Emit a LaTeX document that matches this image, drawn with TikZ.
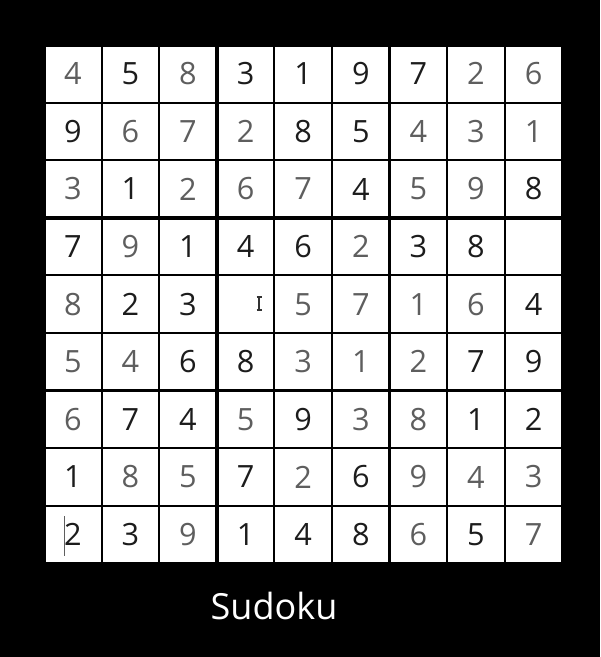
\documentclass[tikz,border=0pt]{standalone}
\usepackage{fontspec}
\setmainfont{Open Sans}
\usepackage{xcolor}
\usetikzlibrary{positioning}

\definecolor{cf}{HTML}{1C1C1C}
\definecolor{cl}{HTML}{5E5E5E}

\begin{document}
\begin{tikzpicture}[x=0.75pt, y=-0.75pt,
  celda/.style={draw=black, line width=1.6pt, minimum size=43.2pt,
    inner sep=0pt, outer sep=0pt, font=\fontsize{23}{26}\selectfont},
  bloque/.style={draw=black, line width=2.6pt}]
% Fondo
\fill[black] (0,0) rectangle (600,657);
\useasboundingbox (0,0) rectangle (600,657);
\fill[white] (44,45) rectangle (562.4,563.4);
% Celdas
\foreach \fila [count=\r] in {
  {4/l,5/f,8/l,3/f,1/f,9/f,7/f,2/l,6/l},
  {9/f,6/l,7/l,2/l,8/f,5/f,4/l,3/l,1/l},
  {3/l,1/f,2/l,6/l,7/l,4/f,5/l,9/l,8/f},
  {7/f,9/l,1/f,4/f,6/f,2/l,3/f,8/f,{}/l},
  {8/l,2/f,3/f,{}/l,5/l,7/l,1/l,6/l,4/f},
  {5/l,4/l,6/f,8/f,3/l,1/l,2/l,7/f,9/f},
  {6/l,7/f,4/f,5/l,9/f,3/l,8/l,1/f,2/f},
  {1/f,8/l,5/l,7/f,2/l,6/f,9/l,4/l,3/l},
  {2/f,3/f,9/l,1/f,4/f,8/f,6/l,5/f,7/l}}
  \foreach \v/\k [count=\c] in \fila
    \node[celda, text=c\k] (c-\r-\c) at ({44+57.6*(\c-0.5)}, {45+57.6*(\r-0.5)})
      {\raisebox{-1.5pt}{\v}};
% Bloques
\foreach \i in {0,1,2}
  \foreach \j in {0,1,2} {
    \pgfmathtruncatemacro{\ra}{3*\i+1}
    \pgfmathtruncatemacro{\rb}{3*\i+3}
    \pgfmathtruncatemacro{\ca}{3*\j+1}
    \pgfmathtruncatemacro{\cb}{3*\j+3}
    \draw[bloque] (c-\ra-\ca.north west) rectangle (c-\rb-\cb.south east);
  }
% Cursores
\draw[black!80, line width=0.9pt] (259,297) -- (259,310)
  (256.5,297) -- (261.5,297) (256.5,310) -- (261.5,310);
\draw[cl, line width=0.8pt] (64.7,516) -- (64.7,556);
% Titulo
\node[text=white, font=\fontsize{27}{31}\selectfont] (titulo) at (274,606) {Sudoku};
\end{tikzpicture}
\end{document}
